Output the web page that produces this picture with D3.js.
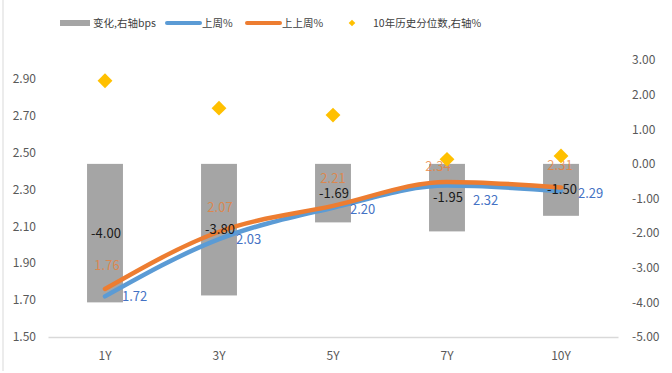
<!DOCTYPE html>
<html><head><meta charset="utf-8">
<script src="https://cdn.jsdelivr.net/npm/d3@7"></script>
<style>
html,body{margin:0;padding:0;background:#fff;}
svg{display:block;}
text{font-family:"Noto Sans CJK SC","Noto Sans",sans-serif;}
</style></head>
<body>
<svg id="c" width="672" height="373"></svg>
<script>
// ---- data ----
const categories = ["1Y","3Y","5Y","7Y","10Y"];
const changeBps = [-4.00, -3.80, -1.69, -1.95, -1.50];      // 变化,右轴bps
const lastWeek = [1.72, 2.03, 2.20, 2.32, 2.29];            // 上周%
const prevWeek = [1.76, 2.07, 2.21, 2.34, 2.31];            // 上上周%
const percentile = [2.40, 1.61, 1.41, 0.13, 0.23];          // 10年历史分位数,右轴%
const leftTicks = [1.50,1.70,1.90,2.10,2.30,2.50,2.70,2.90];
const rightTicks = [3,2,1,0,-1,-2,-3,-4,-5];
const legendLabels = ["变化,右轴bps","上周%","上上周%","10年历史分位数,右轴%"];

// ---- layout ----
const plot = {l:48, r:618, t:60, b:337};
const C = {bar:"#A5A5A5", blue:"#5B9BD5", orange:"#ED7D31", gold:"#FFC000",
           blueText:"#4472C4", tick:"#595959", axis:"#D9D9D9"};
// label nudges (layout only)
const orangeNudge = [[2,0],[1,0],[0,-3],[-9,9],[-1,2]];
const blueNudge = [[0,0],[0,0],[0,2],[9,15],[0,2]];

const fmt = d3.formatLocale({decimal:".", thousands:",", grouping:[3], currency:["",""], minus:"-"}).format(".2f");

const svg = d3.select("#c");
svg.append("line").attr("x1",3).attr("x2",3).attr("y1",0).attr("y2",371)
  .attr("stroke","#D9D9D9").attr("stroke-width",1);

const x = d3.scaleBand().domain(categories).range([plot.l, plot.r]).paddingInner(0).paddingOuter(0);
const yL = d3.scaleLinear().domain([1.5, 3.0]).range([plot.b, plot.t]);
const yR = d3.scaleLinear().domain([-5, 3]).range([plot.b, plot.t]);
const cx = d => x(d) + x.bandwidth()/2;
const barW = x.bandwidth()*0.315;
const numFont = "'Noto Sans',sans-serif";

// axes
const axL = d3.axisLeft(yL).tickValues(leftTicks).tickFormat(fmt).tickSize(0).tickPadding(12);
const gL = svg.append("g").attr("transform",`translate(${plot.l},0)`).call(axL);
gL.select(".domain").remove();
gL.selectAll("text").attr("fill",C.tick).style("font-size","12px").attr("font-family",numFont);

const axR = d3.axisRight(yR).tickValues(rightTicks).tickFormat(fmt).tickSize(0).tickPadding(14);
const gR = svg.append("g").attr("transform",`translate(${plot.r},0)`).call(axR);
gR.select(".domain").remove();
gR.selectAll("text").attr("fill",C.tick).style("font-size","12px").attr("font-family",numFont);

const axB = d3.axisBottom(x).tickSize(0).tickPadding(14);
const gB = svg.append("g").attr("transform",`translate(0,${plot.b})`).call(axB);
gB.select(".domain").attr("stroke",C.axis).attr("stroke-width",1.3);
gB.selectAll("text").attr("fill",C.tick).style("font-size","12px").attr("font-family",numFont);

// bars
svg.append("g").selectAll("rect").data(categories).join("rect")
  .attr("x", d => cx(d) - barW/2)
  .attr("width", barW)
  .attr("y", (d,i) => yR(Math.max(0, changeBps[i])))
  .attr("height", (d,i) => Math.abs(yR(changeBps[i]) - yR(0)))
  .attr("fill", C.bar);

// lines
const lineL = d3.line().x(d => cx(d[0])).y(d => yL(d[1])).curve(d3.curveMonotoneX);
svg.append("path").datum(categories.map((c,i)=>[c,lastWeek[i]]))
  .attr("d", lineL).attr("fill","none").attr("stroke",C.blue).attr("stroke-width",4.5).attr("stroke-linecap","round");
svg.append("path").datum(categories.map((c,i)=>[c,prevWeek[i]]))
  .attr("d", lineL).attr("fill","none").attr("stroke",C.orange).attr("stroke-width",4.5).attr("stroke-linecap","round");

// bar labels
svg.append("g").selectAll("text").data(categories).join("text")
  .attr("x", d => cx(d) + 1)
  .attr("y", (d,i) => (yR(0) + yR(changeBps[i]))/2)
  .attr("dy","0.35em").attr("text-anchor","middle")
  .attr("fill","#1a1a1a").style("font-size","13px").attr("font-family",numFont)
  .text((d,i) => fmt(changeBps[i]));

// orange labels
svg.append("g").selectAll("text").data(categories).join("text")
  .attr("x", (d,i) => cx(d) + orangeNudge[i][0])
  .attr("y", (d,i) => yL(prevWeek[i]) - 24 + orangeNudge[i][1])
  .attr("dy","0.35em").attr("text-anchor","middle")
  .attr("fill",C.orange).attr("fill-opacity",0.75).style("font-size","13px").attr("font-family",numFont)
  .text((d,i) => fmt(prevWeek[i]));

// diamonds
const dSym = d3.symbol().type(d3.symbolSquare).size(110);
svg.append("g").selectAll("path").data(categories).join("path")
  .attr("d", dSym())
  .attr("transform", (d,i) => `translate(${cx(d)},${yR(percentile[i])}) rotate(45)`)
  .attr("fill", C.gold);

// blue labels
svg.append("g").selectAll("text").data(categories).join("text")
  .attr("x", (d,i) => cx(d) + 17 + blueNudge[i][0])
  .attr("y", (d,i) => yL(lastWeek[i]) + blueNudge[i][1])
  .attr("dy","0.35em").attr("text-anchor","start")
  .attr("fill",C.blueText).style("font-size","13px").attr("font-family",numFont)
  .text((d,i) => fmt(lastWeek[i]));

// legend
const lg = svg.append("g").attr("transform","translate(0,23)");
lg.append("rect").attr("x",60).attr("y",-3).attr("width",30).attr("height",6).attr("fill",C.bar);
lg.append("line").attr("x1",167).attr("x2",200).attr("y1",0).attr("y2",0).attr("stroke",C.blue).attr("stroke-width",4).attr("stroke-linecap","round");
lg.append("line").attr("x1",247).attr("x2",280).attr("y1",0).attr("y2",0).attr("stroke",C.orange).attr("stroke-width",4).attr("stroke-linecap","round");
lg.append("path").attr("d", d3.symbol().type(d3.symbolSquare).size(22)()).attr("transform","translate(352,0) rotate(45)").attr("fill",C.gold);
const lx = [93, 202, 282, 373];
lg.selectAll("text.lt").data(legendLabels).join("text").attr("class","lt")
  .attr("x",(d,i)=>lx[i]).attr("y",0).attr("dy","0.35em")
  .attr("fill","#404040").style("font-size","10.5px")
  .text(d=>d);
</script>
</body></html>
